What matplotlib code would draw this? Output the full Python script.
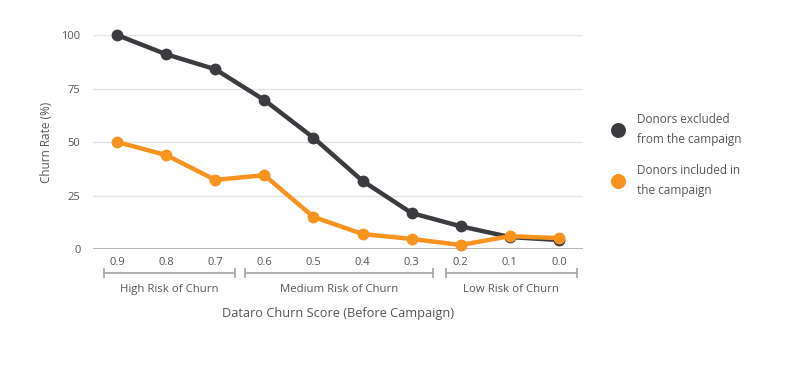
import matplotlib.pyplot as plt
import matplotlib.transforms as mtransforms

plt.rcParams['font.family'] = ['Open Sans', 'DejaVu Sans']

scores = ['0.9', '0.8', '0.7', '0.6', '0.5', '0.4', '0.3', '0.2', '0.1', '0.0']
excluded = [100, 91, 84, 69.6, 52, 31.8, 16.8, 10.6, 5.6, 4.2]
included = [50, 43.9, 32.3, 34.5, 15, 7, 4.7, 1.9, 6, 5.1]
y_ticks = [0, 25, 50, 75, 100]
groups = ['High Risk of Churn', 'Medium Risk of Churn', 'Low Risk of Churn']
group_spans = [(-0.27, 2.41), (2.61, 6.43), (6.69, 9.37)]

dark = '#3b3b40'
orange = '#f7931e'
text_col = '#555555'

fig = plt.figure(figsize=(7.99, 3.72), dpi=100)
ax = fig.add_axes([0.1164, 0.3306, 0.6133, 0.5753])

x = list(range(len(scores)))
ax.plot(x, excluded, color=dark, lw=3.2, marker='o', ms=7.5, clip_on=False, zorder=3,
        label='Donors excluded\nfrom the campaign')
ax.plot(x, included, color=orange, lw=3.2, marker='o', ms=7.5, clip_on=False, zorder=4,
        label='Donors included in\nthe campaign')

ax.set_xlim(-0.49, 9.49)
ax.set_ylim(0, 100)
ax.set_yticks(y_ticks)
ax.set_xticks(x)
ax.set_xticklabels(scores)
ax.tick_params(length=0, labelsize=8, colors=text_col, pad=6)
ax.tick_params(axis='y', pad=9)
for s in ax.spines.values():
    s.set_visible(False)
ax.grid(axis='y', color='#e4e4e4', lw=1)
ax.axhline(0, color='#aaaaaa', lw=1.2, zorder=2)
ax.set_axisbelow(True)
ax.set_ylabel('Churn Rate (%)', fontsize=8.5, color=text_col, labelpad=6)

trans = mtransforms.blended_transform_factory(ax.transData, ax.transAxes)
bracket_y = -0.112
for name, (a, b) in zip(groups, group_spans):
    ax.plot([a, b], [bracket_y, bracket_y], color='#aaaaaa', lw=1.3, transform=trans, clip_on=False)
    for end in (a, b):
        ax.plot([end, end], [bracket_y - 0.02, bracket_y + 0.02], color='#aaaaaa', lw=1.3,
                transform=trans, clip_on=False)
    ax.text((a + b) / 2, -0.19, name, transform=trans, ha='center', va='center',
            fontsize=8.2, color=text_col)

ax.text(0.5, -0.30, 'Dataro Churn Score (Before Campaign)', transform=ax.transAxes,
        ha='center', va='center', fontsize=9.2, color=text_col)

leg = ax.legend(loc='center left', bbox_to_anchor=(1.04, 0.44), frameon=False, fontsize=8.5,
                labelcolor=text_col, handlelength=0.8, handletextpad=1.2, labelspacing=1.5,
                markerscale=1.3)
for line in leg.get_lines():
    line.set_linestyle('none')
for t in leg.get_texts():
    t.set_linespacing(1.7)

fig.savefig('out.png', dpi=100)
